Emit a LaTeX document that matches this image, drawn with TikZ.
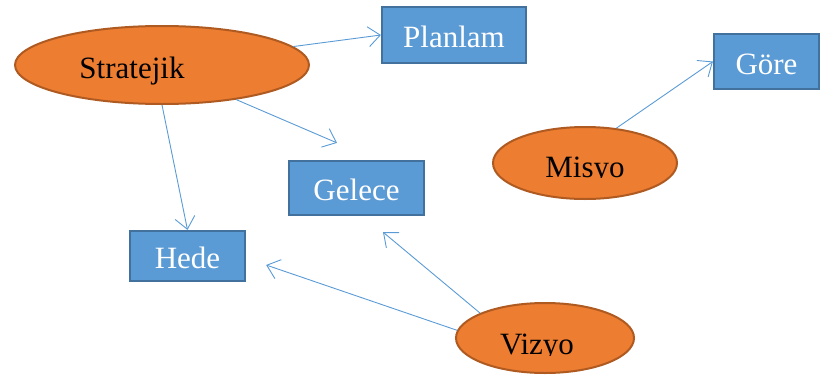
\documentclass[tikz,border=0pt]{standalone}
\usepackage{fontspec}
\setmainfont{Liberation Serif}
\usetikzlibrary{arrows.meta,shapes.geometric,calc}
\definecolor{boxfill}{HTML}{5B9BD5}
\definecolor{boxline}{HTML}{41719C}
\definecolor{ovalfill}{HTML}{ED7D31}
\definecolor{ovalline}{HTML}{AE5A21}
\definecolor{linecol}{HTML}{5B9BD5}
\begin{document}
\begin{tikzpicture}[x=1pt,y=-1pt,
  box/.style={rectangle, draw=boxline, fill=boxfill, line width=2.2pt, text=white,
    font=\fontsize{31}{36}\selectfont, inner sep=0pt, text height=25pt, text depth=0pt},
  oval/.style={ellipse, draw=ovalline, fill=ovalfill, line width=2pt, inner sep=0pt},
  lbl/.style={font=\fontsize{31}{36}\selectfont, text=black, inner sep=0pt},
  conn/.style={draw=linecol, line width=0.9pt,
    -{Straight Barb[length=12pt,width=20pt,line width=0.9pt]}}]
\useasboundingbox (0,0) rectangle (821,375);

% ovals
\node[oval, minimum width=294pt, minimum height=78pt] (strat) at (162,65) {};
\node[lbl, anchor=base] (stratT) at (132,78.5) {Stratejik};

\node[oval, minimum width=184pt, minimum height=72pt] (mis) at (585,163) {};
\begin{scope}
  \clip (480,100) rectangle (700,177.5);
  \node[lbl, anchor=base] (misT) at (585,177.5) {Misyo};
\end{scope}

\node[oval, minimum width=178pt, minimum height=70pt] (viz) at (545,338) {};
\begin{scope}
  \clip (440,300) rectangle (650,355);
  \node[lbl, anchor=base] (vizT) at (537,354.5) {Vizyo};
\end{scope}

% boxes
\node[box, minimum width=144pt, minimum height=56pt] (plan) at (454,35) {Planlam};
\node[box, minimum width=105pt, minimum height=55pt] (gore) at (766.5,61.5) {Göre};
\node[box, minimum width=135pt, minimum height=54pt] (gel) at (356.5,188) {Gelece};
\node[box, minimum width=115pt, minimum height=50pt] (hede) at (187.5,256) {Hede};

% connectors
\draw[conn] (strat.8) -- (plan.west);
\draw[conn] (strat.south) -- (hede.north);
\draw[conn] (strat.-25) -- ($(gel.north)+(-19.5,-17)$);
\draw[conn] (mis.48) -- (gore.west);
\draw[conn] (viz.159) -- ($(gel.south)+(26.5,16)$);
\draw[conn] (viz.175) -- ($(hede.east)+(20,9)$);
\end{tikzpicture}
\end{document}
